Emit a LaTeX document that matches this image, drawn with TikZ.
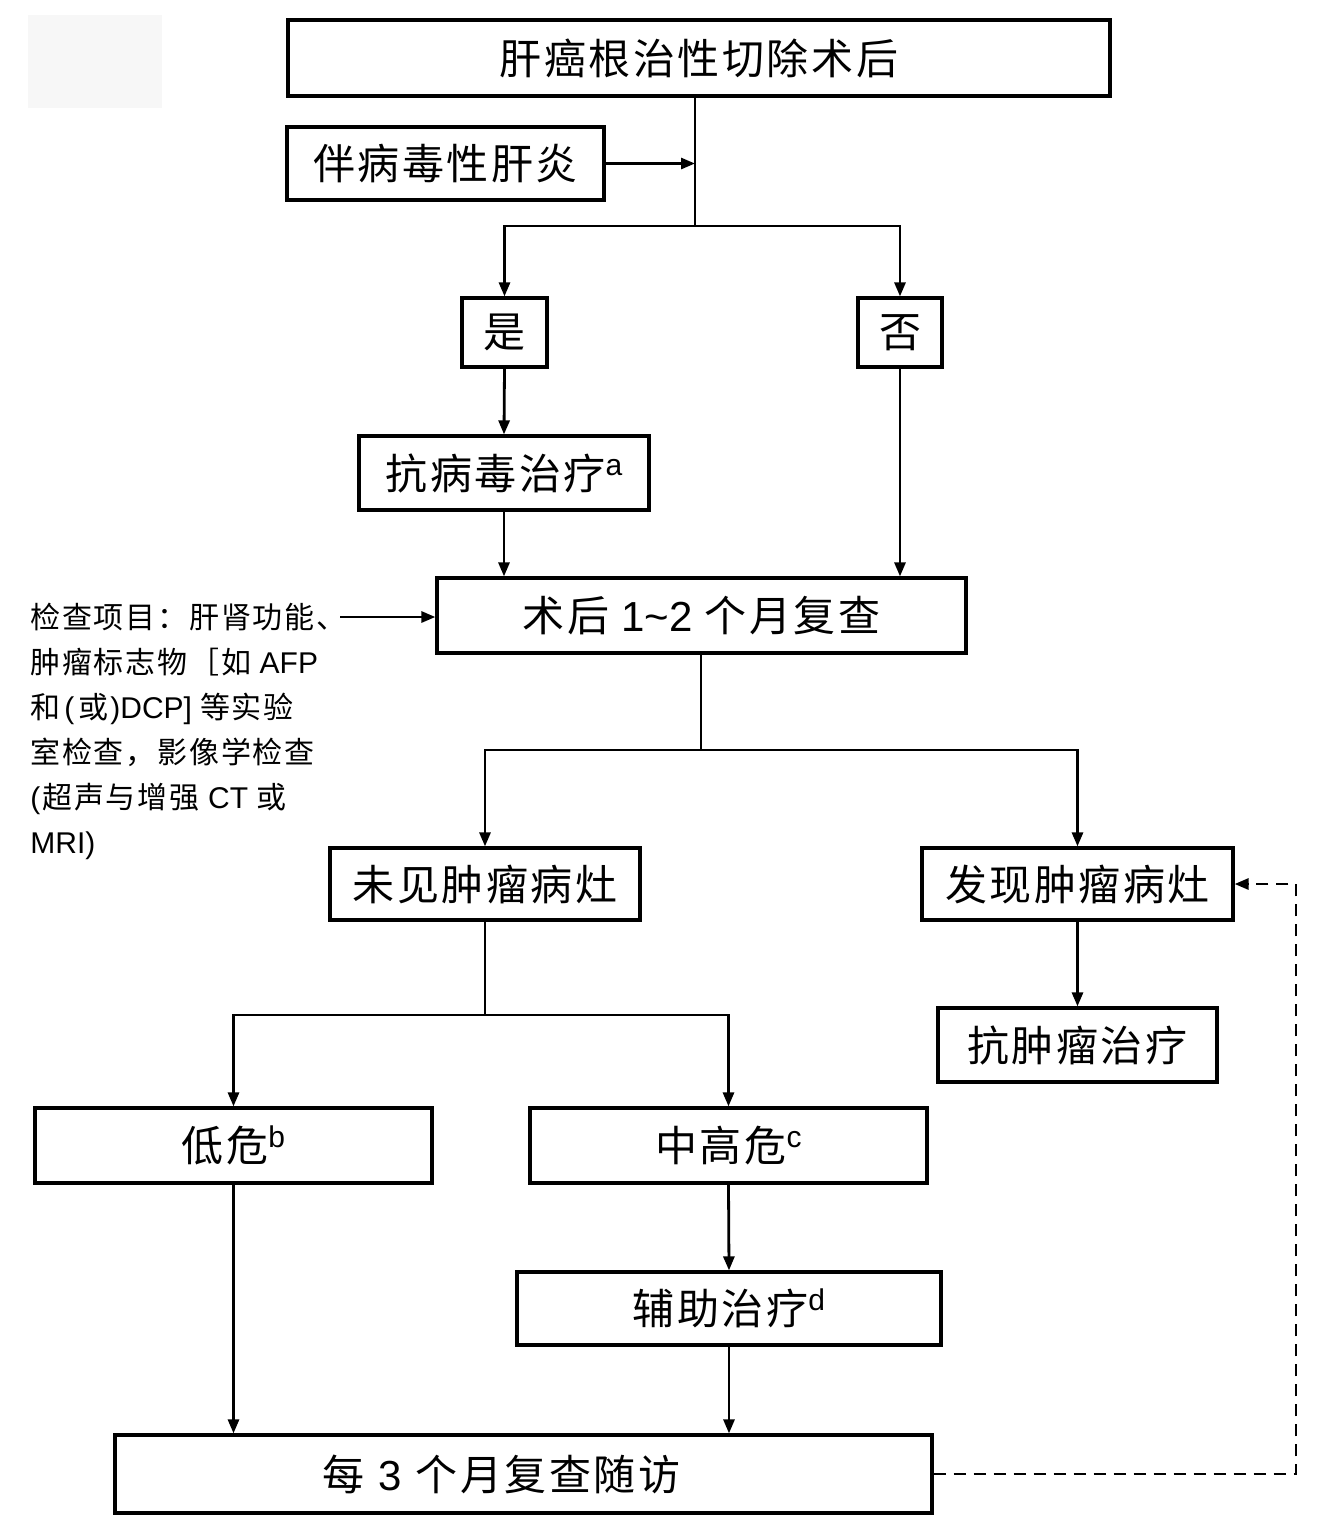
\documentclass[tikz,border=0pt]{standalone}
\usepackage{fontspec}
\setmainfont{Noto Sans CJK SC}[LetterSpace=6]
\newfontfamily\lat{Liberation Sans}
\usetikzlibrary{arrows.meta}
\newcommand{\supx}[1]{\raisebox{7pt}{\lat\fontsize{15}{15}\selectfont #1}}
\begin{document}
\begin{tikzpicture}[x=0.5pt,y=-0.5pt,
  box/.style={draw, line width=1.6pt, inner sep=0pt, align=center,
    font=\fontsize{21}{25}\selectfont},
  conn/.style={line width=1.4pt},
  arr/.style={conn, -{Triangle[length=7pt,width=5.5pt]}},
  dsh/.style={arr, dash pattern=on 6pt off 4pt},
  note/.style={inner sep=0pt, align=left, anchor=north west,
    font=\fontsize{15}{22.5}\selectfont}]
\useasboundingbox (0,0) rectangle (1320,1523);
\fill[black!3] (28,15) rectangle (162,108);

\node[box, minimum width=411pt, minimum height=38pt] (top) at (699,58) {肝癌根治性切除术后};
\node[box, minimum width=158.5pt, minimum height=36.5pt] (hep) at (445.5,163.5) {伴病毒性肝炎};
\node[box, minimum width=42.5pt, minimum height=34.5pt] (yes) at (504.5,332.5) {是};
\node[box, minimum width=42pt, minimum height=34.5pt] (no) at (900,332.5) {否};
\node[box, minimum width=145pt, minimum height=37pt] (av) at (504,473) {抗病毒治疗\supx{a}};
\node[box, minimum width=264.5pt, minimum height=37.5pt] (rc) at (701.5,615.5) {术后 {\lat 1\char"007E 2} 个月复查};
\node[box, minimum width=155pt, minimum height=36pt] (nf) at (485,884) {未见肿瘤病灶};
\node[box, minimum width=155.5pt, minimum height=36pt] (fd) at (1077.5,884) {发现肿瘤病灶};
\node[box, minimum width=139.5pt, minimum height=37pt] (at) at (1077.5,1045) {抗肿瘤治疗};
\node[box, minimum width=198.5pt, minimum height=37.5pt] (low) at (233.5,1145.5) {低危\supx{b}};
\node[box, minimum width=198.5pt, minimum height=37.5pt] (mid) at (728.5,1145.5) {中高危\supx{c}};
\node[box, minimum width=212pt, minimum height=36.5pt] (adj) at (729,1308.5) {辅助治疗\supx{d}};
\node[box, minimum width=408.5pt, minimum height=39pt, text width=408.5pt] (fu) at (523.5,1474) {\hspace*{-22pt}每 {\lat 3} 个月复查随访};

\node[note] (chk) at (30,603) {检查项目：肝肾功能、\\肿瘤标志物［如 {\lat AFP}\\和\hspace{2pt}{\lat(}\hspace{2pt}或\hspace{1pt}{\lat)DCP]}\hspace{4pt}等实验\\室检查，影像学检查\\{\lat(}\hspace{1pt}超声与增强 {\lat CT} 或\\{\lat MRI)}};

\coordinate (j1) at (695,226);
\coordinate (j2) at (701,750);
\coordinate (j3) at (485,1015);
\coordinate (ns) at (340,617);
\coordinate (dc) at (1296,884);

\draw[conn] (top.south -| j1) -- (j1);
\draw[arr] (hep.east) -- (hep.east -| j1);
\draw[arr] (j1) -| (yes.north);
\draw[arr] (j1) -| (no.north);
\draw[arr] (yes.south) -- (av.north);
\draw[arr] (av.south) -- (av.south |- rc.north);
\draw[arr] (no.south) -- (no.south |- rc.north);
\draw[arr] (ns) -- (rc.west |- ns);
\draw[conn] (rc.south -| j2) -- (j2);
\draw[arr] (j2) -| (nf.north);
\draw[arr] (j2) -| (fd.north);
\draw[arr] (fd.south) -- (at.north);
\draw[conn] (nf.south) -- (j3);
\draw[arr] (j3) -| (low.north);
\draw[arr] (j3) -| (mid.north);
\draw[arr] (mid.south) -- (adj.north);
\draw[arr] (adj.south) -- (adj.south |- fu.north);
\draw[arr] (low.south) -- (low.south |- fu.north);
\draw[dsh] (fu.east) -| (dc) -- (fd.east);
\end{tikzpicture}
\end{document}
